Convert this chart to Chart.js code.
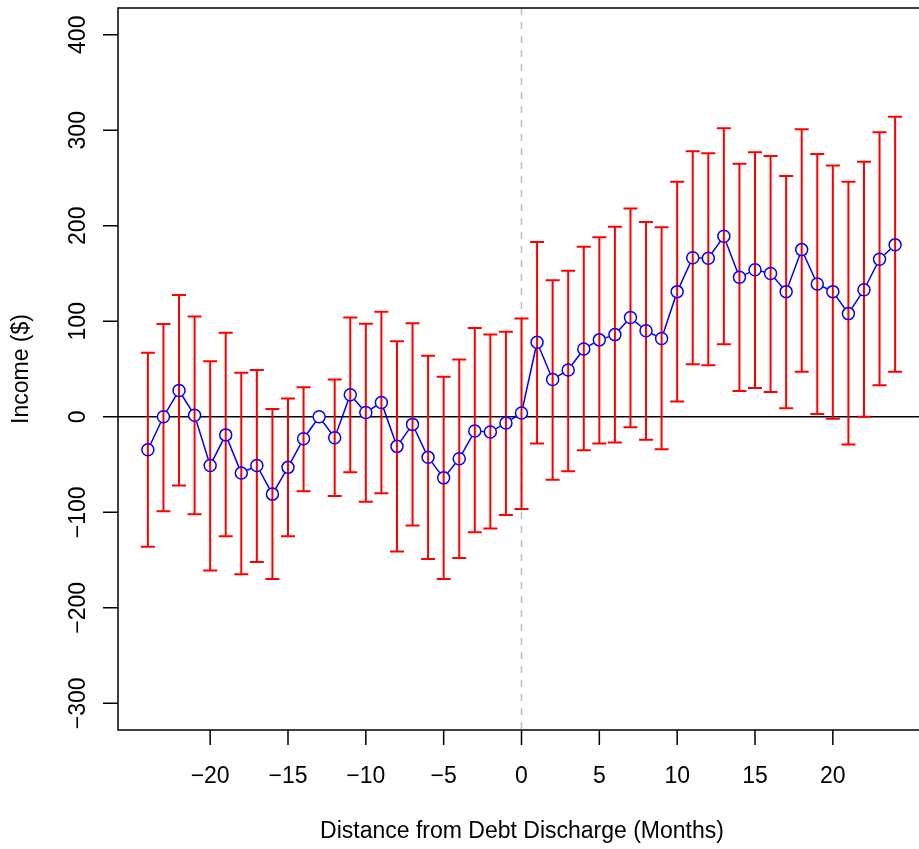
<!DOCTYPE html>
<html>
<head>
<meta charset="utf-8">
<title>Income around debt discharge</title>
<script src="https://cdn.jsdelivr.net/npm/chart.js@4/dist/chart.umd.min.js"></script>
<style>
  html, body { margin: 0; padding: 0; background: #fff; overflow: hidden; }
  #chart { display: block; }
</style>
</head>
<body>
<canvas id="chart" width="935" height="849"></canvas>
<script>
// months relative to discharge, with mean income and the upper / lower bar ends
const months = [-24, -23, -22, -21, -20, -19, -18, -17, -16, -15, -14, -13, -12, -11, -10, -9, -8, -7, -6, -5, -4, -3, -2, -1,
  0, 1, 2, 3, 4, 5, 6, 7, 8, 9, 10, 11, 12, 13, 14, 15, 16, 17, 18, 19, 20, 21, 22, 23, 24];
const income = [-34.5, 0, 27.5, 1.5, -51, -19, -59, -51, -81, -53, -23, 0, -22, 23, 4.5, 15, -31, -8, -42.5, -64, -44, -15, -16, -6.5,
  4, 78, 39, 49, 71, 80.5, 86, 104, 90, 82, 131, 166.5, 166, 189, 146, 154, 150, 131, 175, 139, 131, 108, 133, 165, 180];
const upper = [67, 97, 127.5, 105, 58, 88, 46, 49, 8, 19, 31, null, 39, 104, 97.5, 110, 79, 98, 64, 42, 60, 93, 86, 89,
  103, 183, 143, 153, 178, 188, 199, 218, 204, 198.5, 246, 278, 276, 302, 265, 277, 273, 252, 301, 275, 263, 246, 267, 298, 314];
const lower = [-136, -99, -72, -102, -161, -125, -165, -152, -170, -125, -78, null, -83, -58, -89, -80, -141, -114, -149, -170, -148, -121, -117, -103,
  -96.5, -28, -66, -57, -35, -28, -27, -11, -24, -34, 16, 55, 54, 76, 27, 30, 26, 9, 47, 3, -2, -29, 0, 33, 47];

const xTicks = [-20, -15, -10, -5, 0, 5, 10, 15, 20];
const yTicks = [-300, -200, -100, 0, 100, 200, 300, 400];
const xTitle = 'Distance from Debt Discharge (Months)';
const yTitle = 'Income ($)';

const FONT = '23px "Liberation Sans", Arial, sans-serif';
const fmt = v => (v < 0 ? '\u2212' + Math.abs(v) : String(v));

const points = months.map((m, i) => ({ x: m, y: income[i] }));

// reference lines behind the data: zero income and the discharge month
const refLines = {
  id: 'refLines',
  beforeDatasetsDraw(chart) {
    const { ctx, chartArea: a, scales: { x, y } } = chart;
    ctx.save();
    ctx.beginPath();
    ctx.rect(a.left, a.top, a.right - a.left, a.bottom - a.top);
    ctx.clip();
    ctx.strokeStyle = '#bebebe';
    ctx.lineWidth = 1.5;
    ctx.setLineDash([7, 7]);
    const x0 = x.getPixelForValue(0);
    ctx.beginPath();
    ctx.moveTo(x0, a.top);
    ctx.lineTo(x0, a.bottom);
    ctx.stroke();
    ctx.setLineDash([]);
    ctx.strokeStyle = '#000';
    const y0 = y.getPixelForValue(0);
    ctx.beginPath();
    ctx.moveTo(a.left, y0);
    ctx.lineTo(a.right, y0);
    ctx.stroke();
    ctx.restore();
  }
};

// red error bars, drawn right after the connecting line
const errorBars = {
  id: 'errorBars',
  afterDatasetDraw(chart, args) {
    if (args.index !== 0) return;
    const { ctx, scales: { x, y } } = chart;
    const cap = 7;
    ctx.save();
    ctx.strokeStyle = '#ff0000';
    ctx.lineWidth = 2;
    months.forEach((m, i) => {
      if (upper[i] == null || lower[i] == null) return;
      const px = x.getPixelForValue(m);
      const pt = y.getPixelForValue(upper[i]);
      const pb = y.getPixelForValue(lower[i]);
      ctx.beginPath();
      ctx.moveTo(px, pt);
      ctx.lineTo(px, pb);
      ctx.moveTo(px - cap, pt);
      ctx.lineTo(px + cap, pt);
      ctx.moveTo(px - cap, pb);
      ctx.lineTo(px + cap, pb);
      ctx.stroke();
    });
    ctx.restore();
  }
};

// frame, tick marks, tick labels and axis titles
const frame = {
  id: 'frame',
  afterDraw(chart) {
    const { ctx, chartArea: a, scales: { x, y } } = chart;
    const tick = 15;
    ctx.save();
    ctx.strokeStyle = '#000';
    ctx.lineWidth = 1.5;
    ctx.strokeRect(a.left, a.top, a.right - a.left, a.bottom - a.top);

    ctx.fillStyle = '#000';
    ctx.font = FONT;
    ctx.beginPath();
    xTicks.forEach(v => {
      const px = x.getPixelForValue(v);
      ctx.moveTo(px, a.bottom);
      ctx.lineTo(px, a.bottom + tick);
    });
    yTicks.forEach(v => {
      const py = y.getPixelForValue(v);
      ctx.moveTo(a.left, py);
      ctx.lineTo(a.left - tick, py);
    });
    ctx.stroke();

    ctx.textAlign = 'center';
    ctx.textBaseline = 'alphabetic';
    xTicks.forEach(v => {
      ctx.fillText(fmt(v), x.getPixelForValue(v), a.bottom + 53);
    });
    yTicks.forEach(v => {
      ctx.save();
      ctx.translate(a.left - 33, y.getPixelForValue(v));
      ctx.rotate(-Math.PI / 2);
      ctx.fillText(fmt(v), 0, 0);
      ctx.restore();
    });

    ctx.fillText(xTitle, 522, 838);
    ctx.save();
    ctx.translate(28, (a.top + a.bottom) / 2);
    ctx.rotate(-Math.PI / 2);
    ctx.fillText(yTitle, 0, 0);
    ctx.restore();
    ctx.restore();
  }
};

new Chart(document.getElementById('chart'), {
  type: 'line',
  data: {
    datasets: [
      {
        // connecting line, with white discs that break it at each point
        data: points,
        order: 2,
        borderColor: '#0000ff',
        borderWidth: 1.5,
        pointRadius: 6.5,
        pointBorderWidth: 0,
        pointBackgroundColor: '#ffffff',
        pointBorderColor: 'rgba(0,0,0,0)',
        tension: 0,
        fill: false
      },
      {
        // open circles on top of the bars
        data: points,
        order: 1,
        showLine: false,
        pointRadius: 6,
        pointBorderWidth: 1.5,
        pointBorderColor: '#0000ff',
        pointBackgroundColor: 'rgba(0,0,0,0)'
      }
    ]
  },
  options: {
    responsive: false,
    animation: false,
    events: [],
    layout: { padding: { left: 118, right: 10, top: 8, bottom: 119 } },
    plugins: { legend: { display: false }, tooltip: { enabled: false } },
    scales: {
      x: { type: 'linear', min: -25.92, max: 25.92, display: false },
      y: { type: 'linear', min: -328, max: 428, display: false }
    }
  },
  plugins: [refLines, errorBars, frame]
});
</script>
</body>
</html>
